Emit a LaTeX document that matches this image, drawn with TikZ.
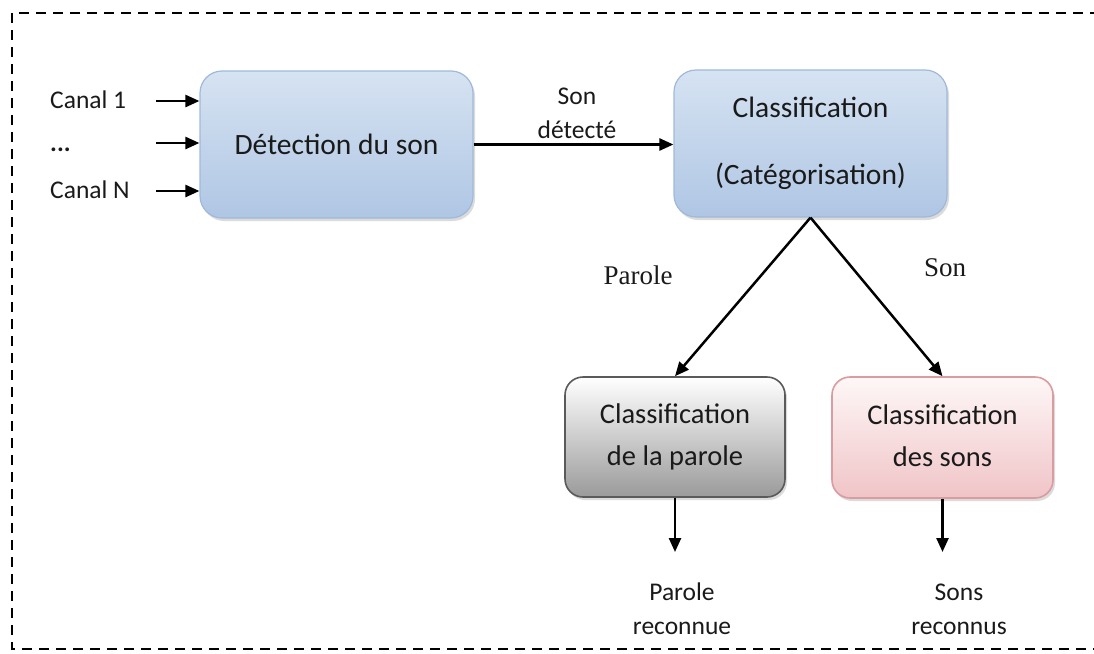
\documentclass[tikz,border=0pt]{standalone}
\usepackage{fontspec}
\setmainfont{Carlito}
\newfontfamily\labelserif{Liberation Serif}
\usetikzlibrary{arrows.meta,shadows}

\definecolor{txt}{HTML}{1A1A1A}
\definecolor{bluetop}{HTML}{D6E3F2}
\definecolor{bluebot}{HTML}{AFC6E4}
\definecolor{blueline}{HTML}{A0B9DA}
\definecolor{graybot}{HTML}{9A9A9A}
\definecolor{grayline}{HTML}{5A5A5A}
\definecolor{pinktop}{HTML}{FEF7F7}
\definecolor{pinkbot}{HTML}{F0C4C7}
\definecolor{pinkline}{HTML}{D99CA1}

\tikzset{
  boxshadow/.style={drop shadow={opacity=0.28, shadow xshift=2pt, shadow yshift=-3pt}},
  bluebox/.style={rectangle, rounded corners=22pt, draw=blueline, line width=1.2pt,
    top color=bluetop, bottom color=bluebot, boxshadow,
    minimum width=273pt, minimum height=147pt, text=txt, align=center,
    font=\fontsize{29.5}{67}\selectfont},
  graybox/.style={rectangle, rounded corners=18pt, draw=grayline, line width=1.6pt,
    top color=white, bottom color=graybot, boxshadow,
    minimum width=220pt, minimum height=120pt, text=txt, align=center,
    font=\fontsize{28.5}{42}\selectfont},
  pinkbox/.style={rectangle, rounded corners=18pt, draw=pinkline, line width=1.6pt,
    top color=pinktop, bottom color=pinkbot, boxshadow,
    minimum width=221pt, minimum height=121pt, text=txt, align=center,
    font=\fontsize{28.5}{42}\selectfont},
  arr/.style={line width=2.5pt, -{Triangle[length=14pt,width=12pt]}},
  plain/.style={text=txt, font=\fontsize{25.5}{34}\selectfont, inner sep=0pt, align=center},
  serif/.style={text=txt, font=\labelserif\fontsize{27}{32}\selectfont, inner sep=0pt},
  frame/.style={line width=2.6pt, dash pattern=on 10pt off 7pt}
}

\begin{document}
\begin{tikzpicture}[x=1pt, y=-1pt]
\clip (0,0) rectangle (1094,653);
\fill[white] (0,0) rectangle (1094,653);

% dashed frame, open on the right
\draw[frame] (1100,13) -- (12,13) -- (12,649) -- (1100,649);

% processing blocks
\node[bluebox] (det) at (336.5,144.5) {Détection du son};
\node[bluebox] (cls) at (810.5,143.5) {\raisebox{-3pt}{Classification}\\\raisebox{-3pt}{(Catégorisation)}};
\node[graybox] (gray) at (675,437) {Classification\\de la parole};
\node[pinkbox] (pink) at (942.5,437.5) {Classification\\des sons\vphantom{p}};

% input channels
\node[plain, anchor=west] (c1) at (50,100) {Canal 1};
\node[plain, anchor=west] (cd) at (50,150) {\textbf{...}};
\node[plain, anchor=west] (cn) at (50,190) {Canal N};
\coordinate (s1) at (156,101);
\coordinate (s2) at (156,143);
\coordinate (s3) at (156,191);
\draw[arr] (s1) -- (s1 -| det.west);
\draw[arr] (s2) -- (s2 -| det.west);
\draw[arr] (s3) -- (s3 -| det.west);

% detected sound
\draw[arr] (det.east) -- (det.east -| cls.west);
\node[plain] (sd) at (577,113) {Son\\détecté};

% split into speech / sound
\draw[arr] (cls.south) -- (gray.north);
\draw[arr] (cls.south) -- (pink.north);
\node[serif] (lp) at (638,275) {Parole};
\node[serif] (ls) at (945,268) {Son};

% recognised outputs
\coordinate (pe) at (675,552);
\coordinate (se) at (942.5,552);
\draw[arr] (gray.south) -- (pe);
\draw[arr] (pink.south) -- (se);
\node[plain] (pr) at (682,609) {Parole\\reconnue};
\node[plain] (sr) at (959,609) {Sons\\reconnus};
\end{tikzpicture}
\end{document}
